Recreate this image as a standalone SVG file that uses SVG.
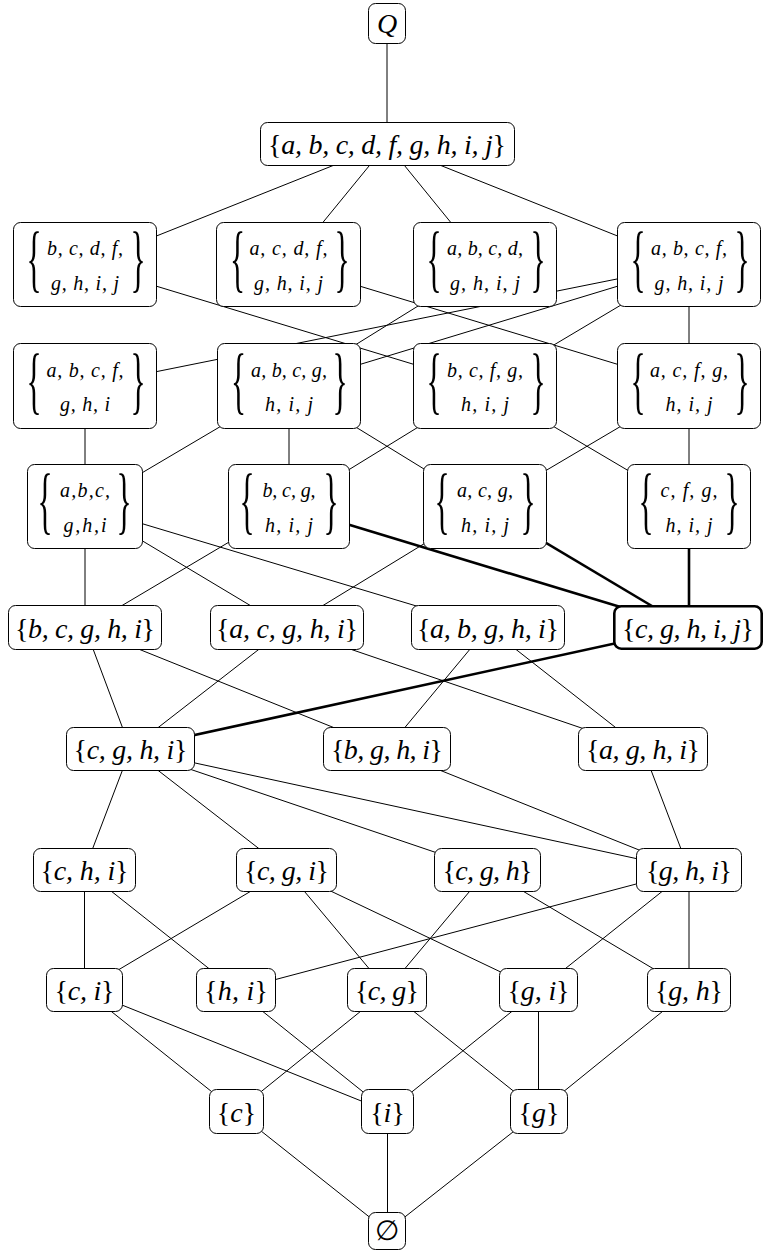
<svg xmlns="http://www.w3.org/2000/svg" width="764" height="1251" viewBox="0 0 764 1251">
<style>
rect.b{fill:#fff;stroke:#000;stroke-width:1}
rect.k{fill:#fff;stroke:#000;stroke-width:2.6}
text{font-family:"Liberation Serif","DejaVu Serif",serif;fill:#000;text-anchor:middle}
.s{font-size:28px;font-style:italic}
.m{font-size:20px;font-style:italic}
.u{font-style:normal}
.bb{font-size:30px;font-style:normal}
#edges line{stroke:#000;stroke-width:1}
#edges line.th{stroke-width:2.6}
</style>
<rect x="0" y="0" width="764" height="1251" fill="#fff"/>
<g id="edges">
<line x1="387" y1="23" x2="387" y2="144"/>
<line x1="387" y1="144" x2="85" y2="264.5"/>
<line x1="387" y1="144" x2="288.5" y2="264.5"/>
<line x1="387" y1="144" x2="485" y2="264.5"/>
<line x1="387" y1="144" x2="689" y2="264.5"/>
<line x1="85" y1="264.5" x2="485" y2="386"/>
<line x1="288.5" y1="264.5" x2="689" y2="386"/>
<line x1="485" y1="264.5" x2="289" y2="386"/>
<line x1="689" y1="264.5" x2="85" y2="386"/>
<line x1="689" y1="264.5" x2="289" y2="386"/>
<line x1="689" y1="264.5" x2="485" y2="386"/>
<line x1="689" y1="264.5" x2="689" y2="386"/>
<line x1="85" y1="386" x2="85" y2="506.5"/>
<line x1="289" y1="386" x2="85" y2="506.5"/>
<line x1="289" y1="386" x2="289" y2="506.5"/>
<line x1="485" y1="386" x2="289" y2="506.5"/>
<line x1="289" y1="386" x2="485" y2="506.5"/>
<line x1="689" y1="386" x2="485" y2="506.5"/>
<line x1="485" y1="386" x2="689" y2="506.5"/>
<line x1="689" y1="386" x2="689" y2="506.5"/>
<line x1="85" y1="506.5" x2="85" y2="627.5"/>
<line x1="289" y1="506.5" x2="85" y2="627.5"/>
<line x1="85" y1="506.5" x2="287" y2="627.5"/>
<line x1="485" y1="506.5" x2="287" y2="627.5"/>
<line x1="85" y1="506.5" x2="488" y2="627.5"/>
<line class="th" x1="289" y1="506.5" x2="688" y2="627.5"/>
<line class="th" x1="485" y1="506.5" x2="688" y2="627.5"/>
<line class="th" x1="689" y1="506.5" x2="689" y2="627.5"/>
<line x1="85" y1="627.5" x2="130.5" y2="749"/>
<line x1="287" y1="627.5" x2="130.5" y2="749"/>
<line class="th" x1="688" y1="627.5" x2="130.5" y2="749"/>
<line x1="85" y1="627.5" x2="387" y2="749"/>
<line x1="488" y1="627.5" x2="387" y2="749"/>
<line x1="287" y1="627.5" x2="643" y2="749"/>
<line x1="488" y1="627.5" x2="643" y2="749"/>
<line x1="130.5" y1="749" x2="84.5" y2="870"/>
<line x1="130.5" y1="749" x2="286.5" y2="870"/>
<line x1="130.5" y1="749" x2="487.5" y2="870"/>
<line x1="130.5" y1="749" x2="689" y2="870"/>
<line x1="387" y1="749" x2="689" y2="870"/>
<line x1="643" y1="749" x2="689" y2="870"/>
<line x1="84.5" y1="870" x2="84.5" y2="990"/>
<line x1="84.5" y1="870" x2="236" y2="990"/>
<line x1="286.5" y1="870" x2="84.5" y2="990"/>
<line x1="286.5" y1="870" x2="387" y2="990"/>
<line x1="286.5" y1="870" x2="538.5" y2="990"/>
<line x1="487.5" y1="870" x2="387" y2="990"/>
<line x1="487.5" y1="870" x2="689" y2="990"/>
<line x1="689" y1="870" x2="236" y2="990"/>
<line x1="689" y1="870" x2="538.5" y2="990"/>
<line x1="689" y1="870" x2="689" y2="990"/>
<line x1="84.5" y1="990" x2="236.5" y2="1111.5"/>
<line x1="84.5" y1="990" x2="387.5" y2="1111.5"/>
<line x1="236" y1="990" x2="387.5" y2="1111.5"/>
<line x1="387" y1="990" x2="236.5" y2="1111.5"/>
<line x1="387" y1="990" x2="539" y2="1111.5"/>
<line x1="538.5" y1="990" x2="387.5" y2="1111.5"/>
<line x1="538.5" y1="990" x2="538.5" y2="1111.5"/>
<line x1="689" y1="990" x2="539" y2="1111.5"/>
<line x1="236.5" y1="1111.5" x2="387" y2="1231"/>
<line x1="387.5" y1="1111.5" x2="387.5" y2="1231"/>
<line x1="539" y1="1111.5" x2="387" y2="1231"/>
</g>

<g id="Q"><rect class="b" x="368.5" y="3.5" width="37" height="40" rx="7"/><text class="s" x="387" y="33">Q</text></g>
<g id="top"><rect class="b" x="260.5" y="122.5" width="254" height="43" rx="7"/><text class="s" x="387" y="154" textLength="238"><tspan class="u">{</tspan>a, b, c, d, f, g, h, i, j<tspan class="u">}</tspan></text></g>

<g id="N1"><rect class="b" x="13.5" y="222.5" width="143" height="84" rx="7"/>
<text class="bb" transform="translate(34,283.2) scale(1.05,2.45)">{</text><text class="bb" transform="translate(138,283.2) scale(1.05,2.45)">}</text>
<text class="m" x="85" y="255" textLength="76">b, c, d, f,</text><text class="m" x="85" y="289.5" textLength="68">g, h, i, j</text></g>
<g id="N2"><rect class="b" x="216.5" y="222.5" width="144" height="84" rx="7"/>
<text class="bb" transform="translate(237.5,283.2) scale(1.05,2.45)">{</text><text class="bb" transform="translate(342,283.2) scale(1.05,2.45)">}</text>
<text class="m" x="288.5" y="255" textLength="78">a, c, d, f,</text><text class="m" x="288.5" y="289.5" textLength="69">g, h, i, j</text></g>
<g id="N3"><rect class="b" x="413.5" y="222.5" width="143" height="84" rx="7"/>
<text class="bb" transform="translate(434,283.2) scale(1.05,2.45)">{</text><text class="bb" transform="translate(538,283.2) scale(1.05,2.45)">}</text>
<text class="m" x="485" y="255" textLength="76">a, b, c, d,</text><text class="m" x="485" y="289.5" textLength="70">g, h, i, j</text></g>
<g id="N4"><rect class="b" x="617.5" y="222.5" width="143" height="84" rx="7"/>
<text class="bb" transform="translate(638,283.2) scale(1.05,2.45)">{</text><text class="bb" transform="translate(742,283.2) scale(1.05,2.45)">}</text>
<text class="m" x="689" y="255" textLength="76">a, b, c, f,</text><text class="m" x="689" y="289.5" textLength="69">g, h, i, j</text></g>

<g id="R1"><rect class="b" x="13.5" y="343.5" width="143" height="85" rx="7"/>
<text class="bb" transform="translate(34,404.7) scale(1.05,2.45)">{</text><text class="bb" transform="translate(138,404.7) scale(1.05,2.45)">}</text>
<text class="m" x="85" y="376.5" textLength="77">a, b, c, f,</text><text class="m" x="85" y="411" textLength="50">g, h, i</text></g>
<g id="R2"><rect class="b" x="217.5" y="343.5" width="143" height="85" rx="7"/>
<text class="bb" transform="translate(238.5,404.7) scale(1.05,2.45)">{</text><text class="bb" transform="translate(340,404.7) scale(1.05,2.45)">}</text>
<text class="m" x="289" y="376.5" textLength="76">a, b, c, g,</text><text class="m" x="289" y="411" textLength="48">h, i, j</text></g>
<g id="R3"><rect class="b" x="413.5" y="343.5" width="143" height="85" rx="7"/>
<text class="bb" transform="translate(434,404.7) scale(1.05,2.45)">{</text><text class="bb" transform="translate(538,404.7) scale(1.05,2.45)">}</text>
<text class="m" x="485" y="376.5" textLength="76">b, c, f, g,</text><text class="m" x="485" y="411" textLength="48">h, i, j</text></g>
<g id="R4"><rect class="b" x="617.5" y="343.5" width="143" height="85" rx="7"/>
<text class="bb" transform="translate(638,404.7) scale(1.05,2.45)">{</text><text class="bb" transform="translate(742,404.7) scale(1.05,2.45)">}</text>
<text class="m" x="689" y="376.5" textLength="78">a, c, f, g,</text><text class="m" x="689" y="411" textLength="47">h, i, j</text></g>

<g id="S1"><rect class="b" x="27.5" y="464.5" width="115" height="84" rx="7"/>
<text class="bb" transform="translate(45,525.2) scale(1.05,2.45)">{</text><text class="bb" transform="translate(124,525.2) scale(1.05,2.45)">}</text>
<text class="m" x="85" y="496.5" textLength="50">a,b,c,</text><text class="m" x="85" y="531.5" textLength="43">g,h,i</text></g>
<g id="S2"><rect class="b" x="228.5" y="464.5" width="121" height="84" rx="7"/>
<text class="bb" transform="translate(247,525.2) scale(1.05,2.45)">{</text><text class="bb" transform="translate(331,525.2) scale(1.05,2.45)">}</text>
<text class="m" x="289" y="496.5" textLength="53">b, c, g,</text><text class="m" x="289" y="531.5" textLength="48">h, i, j</text></g>
<g id="S3"><rect class="b" x="423.5" y="464.5" width="123" height="84" rx="7"/>
<text class="bb" transform="translate(442,525.2) scale(1.05,2.45)">{</text><text class="bb" transform="translate(528,525.2) scale(1.05,2.45)">}</text>
<text class="m" x="485" y="496.5" textLength="56">a, c, g,</text><text class="m" x="485" y="531.5" textLength="48">h, i, j</text></g>
<g id="S4"><rect class="b" x="627.5" y="464.5" width="123" height="84" rx="7"/>
<text class="bb" transform="translate(646,525.2) scale(1.05,2.45)">{</text><text class="bb" transform="translate(732,525.2) scale(1.05,2.45)">}</text>
<text class="m" x="689" y="496.5" textLength="57">c, f, g,</text><text class="m" x="689" y="531.5" textLength="47">h, i, j</text></g>

<g id="T1"><rect class="b" x="8.5" y="605.5" width="153" height="44" rx="7"/><text class="s" x="85" y="637.5" textLength="140"><tspan class="u">{</tspan>b, c, g, h, i<tspan class="u">}</tspan></text></g>
<g id="T2"><rect class="b" x="210.5" y="605.5" width="153" height="44" rx="7"/><text class="s" x="287" y="637.5" textLength="142"><tspan class="u">{</tspan>a, c, g, h, i<tspan class="u">}</tspan></text></g>
<g id="T3"><rect class="b" x="411.5" y="605.5" width="153" height="44" rx="7"/><text class="s" x="488" y="637.5" textLength="142"><tspan class="u">{</tspan>a, b, g, h, i<tspan class="u">}</tspan></text></g>
<g id="T4"><rect class="k" x="614.3" y="606.3" width="147.4" height="42.4" rx="7"/><text class="s" x="688" y="637.5" textLength="132"><tspan class="u">{</tspan>c, g, h, i, j<tspan class="u">}</tspan></text></g>

<g id="U1"><rect class="b" x="66.5" y="727.5" width="128" height="43" rx="7"/><text class="s" x="130.5" y="759" textLength="114"><tspan class="u">{</tspan>c, g, h, i<tspan class="u">}</tspan></text></g>
<g id="U2"><rect class="b" x="323.5" y="727.5" width="127" height="43" rx="7"/><text class="s" x="387" y="759" textLength="112"><tspan class="u">{</tspan>b, g, h, i<tspan class="u">}</tspan></text></g>
<g id="U3"><rect class="b" x="578.5" y="727.5" width="129" height="43" rx="7"/><text class="s" x="643" y="759" textLength="114"><tspan class="u">{</tspan>a, g, h, i<tspan class="u">}</tspan></text></g>

<g id="V1"><rect class="b" x="33.5" y="848.5" width="102" height="43" rx="7"/><text class="s" x="84.5" y="880" textLength="88"><tspan class="u">{</tspan>c, h, i<tspan class="u">}</tspan></text></g>
<g id="V2"><rect class="b" x="236.5" y="848.5" width="100" height="43" rx="7"/><text class="s" x="286.5" y="880" textLength="85"><tspan class="u">{</tspan>c, g, i<tspan class="u">}</tspan></text></g>
<g id="V3"><rect class="b" x="434.5" y="848.5" width="106" height="43" rx="7"/><text class="s" x="487.5" y="880" textLength="90"><tspan class="u">{</tspan>c, g, h<tspan class="u">}</tspan></text></g>
<g id="V4"><rect class="b" x="636.5" y="848.5" width="105" height="43" rx="7"/><text class="s" x="689" y="880" textLength="86"><tspan class="u">{</tspan>g, h, i<tspan class="u">}</tspan></text></g>

<g id="W1"><rect class="b" x="46.5" y="968.5" width="76" height="43" rx="7"/><text class="s" x="84.5" y="1000" textLength="60"><tspan class="u">{</tspan>c, i<tspan class="u">}</tspan></text></g>
<g id="W2"><rect class="b" x="196.5" y="968.5" width="79" height="43" rx="7"/><text class="s" x="236" y="1000" textLength="64"><tspan class="u">{</tspan>h, i<tspan class="u">}</tspan></text></g>
<g id="W3"><rect class="b" x="347.5" y="968.5" width="79" height="43" rx="7"/><text class="s" x="387" y="1000" textLength="64"><tspan class="u">{</tspan>c, g<tspan class="u">}</tspan></text></g>
<g id="W4"><rect class="b" x="499.5" y="968.5" width="78" height="43" rx="7"/><text class="s" x="538.5" y="1000" textLength="62"><tspan class="u">{</tspan>g, i<tspan class="u">}</tspan></text></g>
<g id="W5"><rect class="b" x="647.5" y="968.5" width="83" height="43" rx="7"/><text class="s" x="689" y="1000" textLength="68"><tspan class="u">{</tspan>g, h<tspan class="u">}</tspan></text></g>

<g id="X1"><rect class="b" x="209.5" y="1089.5" width="54" height="44" rx="7"/><text class="s" x="236.5" y="1121.5"><tspan class="u">{</tspan>c<tspan class="u">}</tspan></text></g>
<g id="X2"><rect class="b" x="361.5" y="1089.5" width="52" height="44" rx="7"/><text class="s" x="387.5" y="1121.5"><tspan class="u">{</tspan>i<tspan class="u">}</tspan></text></g>
<g id="X3"><rect class="b" x="510.5" y="1089.5" width="57" height="44" rx="7"/><text class="s" x="539" y="1121.5"><tspan class="u">{</tspan>g<tspan class="u">}</tspan></text></g>

<g id="empty"><rect class="b" x="368.5" y="1212.5" width="37" height="37" rx="7"/><text class="s" x="387" y="1240" style="font-style:normal">∅</text></g>
</svg>
